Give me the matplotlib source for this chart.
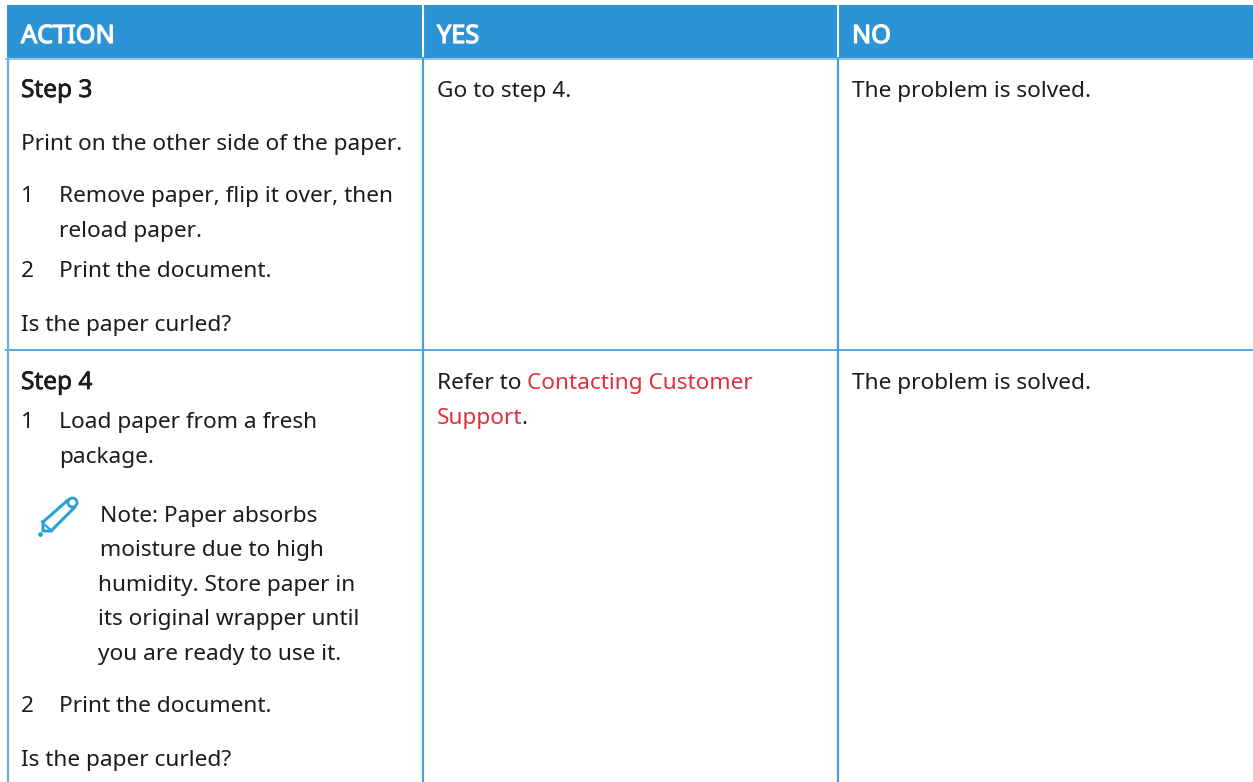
import matplotlib
matplotlib.use("Agg")
import matplotlib.pyplot as plt
import matplotlib.patheffects as pe

W, H = 1253, 782
FONT = "Noto Sans"
BLACK = "#1c1c1c"
BLUE = "#2b93d6"
LINE = "#4a9fdc"
RED = "#e0303f"
ICON = "#2a9fdc"
FS = 16.3
FS_HEAD = 18.2
FS_STEP = 17.6

headers = ["ACTION", "YES", "NO"]
col_x = [21, 437, 852]

# (x, baseline y, text, bold)
action_lines = [
    (21, 97, "Step 3", True),
    (21, 150, "Print on the other side of the paper.", False),
    (21, 202, "1", False),
    (59, 202, "Remove paper, flip it over, then", False),
    (59, 237, "reload paper.", False),
    (21, 277, "2", False),
    (59, 277, "Print the document.", False),
    (21, 331, "Is the paper curled?", False),
    (21, 389, "Step 4", True),
    (21, 428, "1", False),
    (59, 428, "Load paper from a fresh", False),
    (59, 463, "package.", False),
    (100, 522, "Note: Paper absorbs", False),
    (100, 556, "moisture due to high", False),
    (98, 591, "humidity. Store paper in", False),
    (98, 625, "its original wrapper until", False),
    (98, 660, "you are ready to use it.", False),
    (21, 712, "2", False),
    (59, 712, "Print the document.", False),
    (21, 766, "Is the paper curled?", False),
]
yes_lines = [
    (437, 97, "Go to step 4.", BLACK),
    (437, 389, "Refer to", BLACK),
    (527, 389, "Contacting Customer", RED),
    (437, 424, "Support", RED),
    (521, 424, ".", BLACK),
]
no_lines = [
    (852, 97, "The problem is solved.", BLACK),
    (852, 389, "The problem is solved.", BLACK),
]
pencil_x = [43, 68, 75, 51, 43, 43]
pencil_y = [522, 500, 507, 531, 531, 522]
pencil_inner_x = [45, 52]
pencil_inner_y = [525, 531]

fig = plt.figure(figsize=(W / 100, H / 100), dpi=100, facecolor="white")
ax = fig.add_axes([0, 0, 1, 1])
ax.set_xlim(0, W)
ax.set_ylim(H, 0)
ax.axis("off")

# header band and grid
ax.fill_between([7, W], 5, 58, color=BLUE, lw=0)
ax.plot([422.5, 422.5], [5, 58], color="white", lw=1.5)
ax.plot([837.5, 837.5], [5, 58], color="white", lw=1.5)
ax.plot([6, W], [58.5, 58.5], color="#7cc0ea", lw=1.2)
ax.plot([6, W], [350, 350], color=LINE, lw=1.3)
ax.plot([7.5, 7.5], [58, H], color="#63b3e5", lw=1.6)
ax.plot([423, 423], [58, H], color=LINE, lw=1.6)
ax.plot([838, 838], [58, H], color=LINE, lw=1.6)

heavy = [pe.withStroke(linewidth=0.9, foreground="white")]
semi = [pe.withStroke(linewidth=0.5, foreground=BLACK)]

for x, h in zip(col_x, headers):
    ax.text(x, 43, h, color="white", fontsize=FS_HEAD, family=FONT, va="baseline", path_effects=heavy)

for x, y, s, bold in action_lines:
    ax.text(x, y, s, color=BLACK, fontsize=FS_STEP if bold else FS, family=FONT, va="baseline",
            path_effects=semi if bold else None)
for x, y, s, c in yes_lines + no_lines:
    ax.text(x, y, s, color=c, fontsize=FS, family=FONT, va="baseline")

# note pencil
ax.plot(pencil_x, pencil_y, color=ICON, lw=2.2, solid_joinstyle="round")
ax.plot(pencil_inner_x, pencil_inner_y, color=ICON, lw=1.6)
ax.plot([72], [502], "o", ms=6.5, mfc="white", mec=ICON, mew=2)
ax.plot([40], [534], "o", ms=2.4, color=ICON)

fig.savefig("out.png", dpi=100)
